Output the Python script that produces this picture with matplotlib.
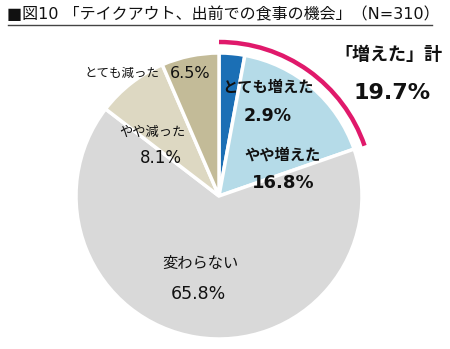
import matplotlib.pyplot as plt
from matplotlib.patches import Arc

plt.rcParams['font.family'] = ['DejaVu Sans', 'Noto Sans CJK JP']

# 回答の内訳（%）
labels = ['とても増えた', 'やや増えた', '変わらない', 'やや減った', 'とても減った']
values = [2.9, 16.8, 65.8, 8.1, 6.5]
colors = ['#1b6fb5', '#b5dbe8', '#d9d9d9', '#ddd8c2', '#c3bb98']
increased_total = 19.7

W, H = 450, 349
fig = plt.figure(figsize=(W / 100, H / 100), dpi=100)
ax = fig.add_axes([0, 0, 1, 1])

cx, cy, r = 219, H - 196, 143

ax.pie(values, colors=colors, startangle=90, counterclock=False,
       center=(cx, cy), radius=r, frame=True,
       wedgeprops=dict(edgecolor='white', linewidth=2.5))
ax.set_xlim(0, W)
ax.set_ylim(0, H)
ax.set_aspect('equal')
ax.axis('off')

# 「増えた」計の弧
span = 360 * sum(values[:2]) / 100
ax.add_patch(Arc((cx, cy), 2 * 154, 2 * 154, theta1=90 - span, theta2=90,
                 color='#e0196b', linewidth=3.2))

# タイトル
ax.text(7, H - 14, '■図10 「テイクアウト、出前での食事の機会」（N=310）',
        fontsize=11.5, va='center', ha='left', color='#111111')
ax.plot([8, 432], [H - 25, H - 25], color='#444444', linewidth=1)

dark = '#111111'
# 増えた側（太字）
ax.text(268, H - 87, labels[0], fontsize=11, fontweight='bold', ha='center', va='center', color=dark)
ax.text(268, H - 116, f'{values[0]}%', fontsize=12.5, fontweight='bold', ha='center', va='center', color=dark)
ax.text(283, H - 155, labels[1], fontsize=11, fontweight='bold', ha='center', va='center', color=dark)
ax.text(283, H - 183, f'{values[1]}%', fontsize=13, fontweight='bold', ha='center', va='center', color=dark)

ax.text(388, H - 55, '「増えた」計', fontsize=13, fontweight='bold', ha='center', va='center', color=dark)
ax.text(392, H - 93, f'{increased_total}%', fontsize=16, fontweight='bold', ha='center', va='center', color=dark)

# その他
ax.text(122, H - 73, labels[4], fontsize=9, ha='center', va='center', color=dark)
ax.text(190, H - 73, f'{values[4]}%', fontsize=11.5, ha='center', va='center', color=dark)
ax.text(152, H - 132, labels[3], fontsize=9.5, ha='center', va='center', color=dark)
ax.text(161, H - 158, f'{values[3]}%', fontsize=12, ha='center', va='center', color=dark)
ax.text(200, H - 263, labels[2], fontsize=11, ha='center', va='center', color=dark)
ax.text(198, H - 294, f'{values[2]}%', fontsize=12.5, ha='center', va='center', color=dark)

fig.savefig('out.png', dpi=100, facecolor='white')
